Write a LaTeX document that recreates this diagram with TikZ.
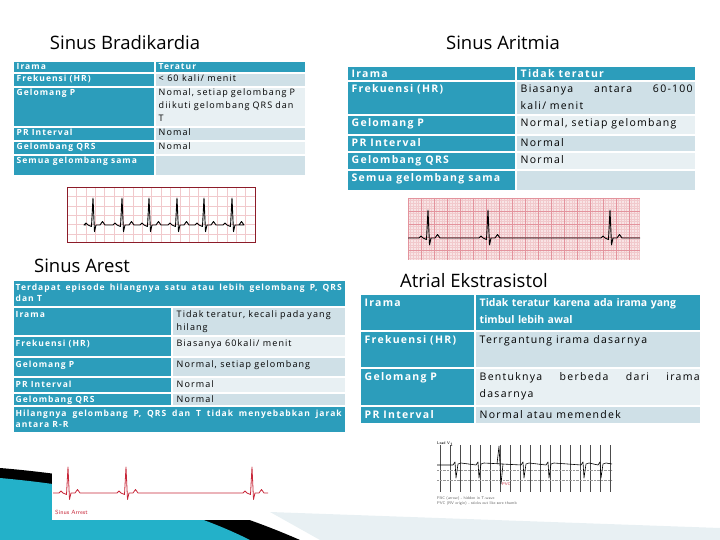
\documentclass[tikz,border=0pt]{standalone}
\usepackage{fontspec}
\setmainfont{Open Sans}
\newfontfamily\widefont[LetterSpace=12]{Open Sans}
\newfontfamily\wideboldfont[LetterSpace=12,BoldFont={* Bold}]{Open Sans}
\usepackage{tikz}
\usetikzlibrary{positioning}
\definecolor{teal}{HTML}{2C9DBB}
\definecolor{rowA}{HTML}{CFE0E7}
\definecolor{rowB}{HTML}{E8F0F3}
\definecolor{gridpink}{HTML}{F1C9CC}
\definecolor{ecgred}{HTML}{C8283A}
\tikzset{head/.style={anchor=base west,inner sep=1.5pt,font=\wideboldfont\bfseries\fontsize{8.5}{11}\selectfont,text=white,align=left}}
\tikzset{body/.style={anchor=base west,inner sep=1.5pt,font=\widefont\fontsize{9}{13}\selectfont,align=left}}
\tikzset{bighead/.style={head,font=\wideboldfont\bfseries\fontsize{10.5}{17}\selectfont}}
\tikzset{bigbody/.style={body,font=\widefont\fontsize{10.5}{17}\selectfont}}
\tikzset{title/.style={font=\fontsize{18.5}{20}\selectfont}}
\tikzset{beat/.style={black,line width=0.9pt,line join=round}}
% cell: x1,y1,x2,y2,fill
\newcommand{\cellbox}[5]{\fill[#5] (#1,#2) rectangle (#3,#4);}
% one beat: x, baseline, height
\newcommand{\beatpath}[3]{-- (#1-9,#2) -- (#1-7,#2-2) -- (#1-5,#2) -- (#1-1.5,#2+1.5) -- (#1,#2-#3) -- (#1+1.5,#2+0.25*#3) -- (#1+3,#2) -- (#1+7,#2) -- (#1+9.5,#2-3.5) -- (#1+12,#2)}

\begin{document}
\begin{tikzpicture}[x=1pt,y=-1pt]
  \useasboundingbox (0,0) rectangle (720,540);

  % background decoration
  \fill[black] (0,468) .. controls (120,478) and (220,505) .. (300,540) -- (0,540) -- cycle;
  \fill[teal!80!cyan] (0,478) .. controls (110,488) and (190,510) .. (250,540) -- (0,540) -- cycle;
  \fill[rowB] (270,512) -- (720,528) -- (720,540) -- (320,540) -- cycle;

  % titles
  \node[title] (tbrady) at (125,43) {Sinus Bradikardia};
  \node[title] (taritm) at (503,43) {Sinus Aritmia};
  \node[title] (tarest) at (82,266) {Sinus Arest};
  \node[title] (tatri) at (474,281) {Atrial Ekstrasistol};

  % table bradikardia
  \foreach \ya/\yb/\c in {61/73/teal,73/87/rowA,87/127/rowB,127/141/rowA,141/155/rowB,155/176/rowA}
  {
    \cellbox{14}{\ya+0.8}{154}{\yb-0.8}{teal}
    \cellbox{156}{\ya+0.8}{305}{\yb-0.8}{\c}
  }
  \node[head] (b1) at (15,70) {Irama};
  \node[head] (b2) at (15,82) {Frekuensi (HR)};
  \node[head] (b3) at (15,96) {Gelomang P};
  \node[head] (b4) at (15,136) {PR Interval};
  \node[head] (b5) at (15,150) {Gelombang QRS};
  \node[head] (b6) at (15,164) {Semua gelombang sama};
  \node[head] (c1) at (157,70) {Teratur};
  \node[body] (c2) at (157,82) {< 60 kali/ menit};
  \node[body,text width=146pt] (c3) at (157,96) {Nomal, setiap gelombang P\\diikuti gelombang QRS dan\\T};
  \node[body] (c4) at (157,136) {Nomal};
  \node[body] (c5) at (157,150) {Nomal};

  % table aritmia
  \foreach \ya/\yb/\c in {66/81/teal,81/115/rowA,115/135/rowB,135/152/rowA,152/170/rowB,170/191/rowA}
  {
    \cellbox{348}{\ya+0.8}{515}{\yb-0.8}{teal}
    \cellbox{517}{\ya+0.8}{695}{\yb-0.8}{\c}
  }
  \node[bighead] (d1) at (350,78) {Irama};
  \node[bighead] (d2) at (350,93) {Frekuensi (HR)};
  \node[bighead] (d3) at (350,127) {Gelomang P};
  \node[bighead] (d4) at (350,147) {PR Interval};
  \node[bighead] (d5) at (350,164) {Gelombang QRS};
  \node[bighead] (d6) at (350,182) {Semua gelombang sama};
  \node[bighead] (e1) at (519,78) {Tidak teratur};
  \node[bigbody,text width=172pt] (e2) at (519,93) {Biasanya\hfill antara\hfill 60-100\\kali/ menit};
  \node[bigbody] (e3) at (519,127) {Normal, setiap gelombang};
  \node[bigbody] (e4) at (519,147) {Normal};
  \node[bigbody] (e5) at (519,164) {Normal};

  % table arest
  \cellbox{14}{280.8}{345}{306.2}{teal}
  \foreach \ya/\yb/\c in {307/336/rowA,336/357/rowB,357/377/rowA,377/393/rowB,393/406/rowA}
  {
    \cellbox{14}{\ya+0.8}{171}{\yb-0.8}{teal}
    \cellbox{173}{\ya+0.8}{345}{\yb-0.8}{\c}
  }
  \cellbox{14}{406.8}{345}{432}{teal}
  \node[head,text width=326pt,align=justify] (f0) at (14,290) {Terdapat episode hilangnya satu atau lebih gelombang P, QRS\linebreak dan T};
  \node[head] (f1) at (14,317) {Irama};
  \node[head] (f2) at (14,346) {Frekuensi (HR)};
  \node[head] (f3) at (14,367) {Gelomang P};
  \node[head] (f4) at (14,387) {PR Interval};
  \node[head] (f5) at (14,402) {Gelombang QRS};
  \node[head,text width=326pt,align=justify] (f6) at (14,416) {Hilangnya gelombang P, QRS dan T tidak menyebabkan jarak\linebreak antara R-R};
  \node[body,text width=166pt] (g1) at (175,317) {Tidak teratur, kecali pada yang\\hilang};
  \node[body] (g2) at (175,346) {Biasanya 60kali/ menit};
  \node[body] (g3) at (175,367) {Normal, setiap gelombang};
  \node[body] (g4) at (175,387) {Normal};
  \node[body] (g5) at (175,402) {Normal};

  % table ekstrasistol
  \foreach \ya/\yb/\c in {294/331/teal,331/368/rowA,368/406/rowB,406/424/rowA}
  {
    \cellbox{361}{\ya+0.8}{474}{\yb-0.8}{teal}
    \cellbox{476}{\ya+0.8}{700}{\yb-0.8}{\c}
  }
  \node[bighead] (h1) at (363,306) {Irama};
  \node[bighead] (h2) at (363,343) {Frekuensi (HR)};
  \node[bighead] (h3) at (363,380) {Gelomang P};
  \node[bighead] (h4) at (363,418) {PR Interval};
  \node[bighead,text width=222pt,font=\bfseries\fontsize{10.5}{17}\selectfont] (i1) at (478,306) {Tidak teratur karena ada irama yang\\timbul lebih awal};
  \node[bigbody] (i2) at (478,343) {Terrgantung irama dasarnya};
  \node[bigbody,text width=220pt] (i3) at (478,380) {Bentuknya\hfill berbeda\hfill dari\hfill irama\\dasarnya};
  \node[bigbody] (i4) at (478,418) {Normal atau memendek};

  % ecg bradikardia
  \fill[white] (67,187) rectangle (255,242);
  \foreach \gx in {76.4,85.8,...,250} \draw[gridpink,line width=0.5pt] (\gx,187) -- (\gx,242);
  \foreach \gy in {196.4,205.8,...,240} \draw[gridpink,line width=0.5pt] (67,\gy) -- (255,\gy);
  \draw[ecgred!70!black,line width=0.8pt] (67,187) rectangle (255,242);
  \draw[beat] (86,225) \beatpath{93}{225}{27} \beatpath{122}{225}{27} \beatpath{149}{225}{27}
    \beatpath{177}{225}{27} \beatpath{204}{225}{27} \beatpath{232}{225}{27} -- (237,225);

  % ecg aritmia
  \fill[gridpink!50] (408,198) rectangle (640,260);
  \foreach \gx in {410.6,413.2,...,640} \draw[gridpink,line width=0.3pt] (\gx,198) -- (\gx,260);
  \foreach \gy in {200.6,203.2,...,260} \draw[gridpink,line width=0.3pt] (408,\gy) -- (640,\gy);
  \foreach \gx in {408,421,...,640} \draw[ecgred!50,line width=0.6pt] (\gx,198) -- (\gx,260);
  \foreach \gy in {198,211,...,260} \draw[ecgred!50,line width=0.6pt] (408,\gy) -- (640,\gy);
  \draw[beat] (408,238) \beatpath{428}{238}{28} \beatpath{488}{238}{28} \beatpath{610}{238}{28} -- (640,238);

  % ecg arest
  \fill[white] (52,460) rectangle (268,520);
  \draw[ecgred,line width=0.8pt,line join=round] (53,493) \beatpath{68}{493}{26} \beatpath{126}{493}{26} -- (236,493) \beatpath{252}{493}{26} -- (268,493);
  \node[anchor=west,inner sep=0pt,text=ecgred,font=\fontsize{6}{7}\selectfont\sffamily] (lblarest) at (55,512) {Sinus Arrest};

  % ecg ekstrasistol
  \fill[white] (437,440) rectangle (612,508);
  \foreach \gx in {440,450,...,610} \draw[black!70,line width=0.4pt] (\gx,445) -- (\gx,492);
  \foreach \gy in {470,480} \draw[black!40,densely dotted] (437,\gy) -- (612,\gy);
  \draw[black,line width=0.6pt,line join=round] (437,465) \foreach \qx in {455,478,523,548,583,600} {-- (\qx-2,465) -- (\qx,462) -- (\qx+1,478) -- (\qx+3,464) -- (\qx+6,463)} -- (612,464);
  \draw[black,line width=0.6pt] (497,464) -- (499,446) -- (501,484) -- (503,464);
  \node[anchor=west,inner sep=0pt,font=\fontsize{4}{5}\selectfont\sffamily] (lblleadv) at (437,444) {Lead V$_1$};
  \node[anchor=west,inner sep=0pt,text=ecgred,font=\fontsize{4}{5}\selectfont\sffamily] (lblpvc) at (502,484) {PVC};
  \node[anchor=north west,inner sep=0pt,text=black!60,font=\fontsize{4}{5}\selectfont\sffamily,align=left] (lblcap) at (437,496) {PAC (arrow) - hidden in T-wave\\PVC (RV origin) - sticks out like sore thumb};
\end{tikzpicture}
\end{document}
